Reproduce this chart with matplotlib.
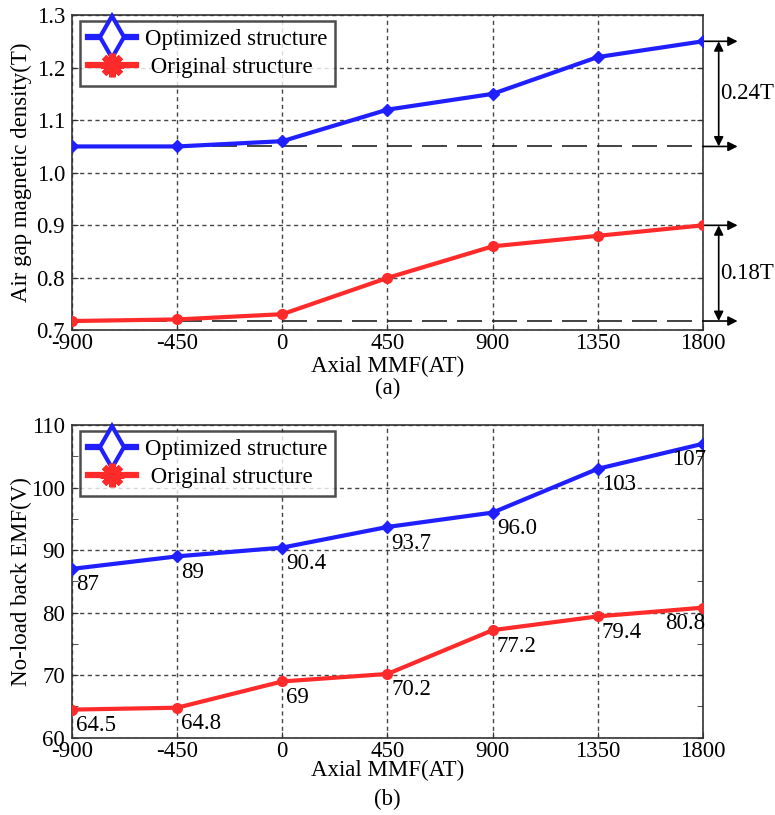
import matplotlib
matplotlib.use("Agg")
import matplotlib.pyplot as plt
from matplotlib.lines import Line2D
from matplotlib.ticker import MultipleLocator

plt.rcParams['font.family'] = ['Liberation Serif', 'DejaVu Serif']
plt.rcParams['mathtext.fontset'] = 'stix'

mmf = [-900, -450, 0, 450, 900, 1350, 1800]
xticks = [-900, -450, 0, 450, 900, 1350, 1800]

# (a) air gap magnetic density (T)
bg_opt = [1.05, 1.05, 1.06, 1.12, 1.15, 1.22, 1.25]
bg_orig = [0.718, 0.721, 0.731, 0.80, 0.86, 0.88, 0.90]
ref_levels_a = [1.05, 0.718]
diff_labels = ["0.24T", "0.18T"]

# (b) no-load back EMF (V)
emf_opt = [87, 89, 90.4, 93.7, 96.0, 103, 107]
emf_orig = [64.5, 64.8, 69, 70.2, 77.2, 79.4, 80.8]
emf_opt_lbl = ["87", "89", "90.4", "93.7", "96.0", "103", "107"]
emf_orig_lbl = ["64.5", "64.8", "69", "70.2", "77.2", "79.4", "80.8"]

BLUE = '#1f1fff'
RED = '#ff2a2a'
FS = 16.5

fig = plt.figure(figsize=(7.75, 8.15), dpi=100)
ax1 = fig.add_axes([0.0929, 0.5945, 0.8141, 0.3871])
ax2 = fig.add_axes([0.0929, 0.0948, 0.8141, 0.3837])


def style(ax):
    ax.set_xlim(-900, 1800)
    ax.set_xticks(xticks)
    ax.set_xticklabels([str(v) for v in xticks])
    ax.grid(True, linestyle=(0, (3, 2.5)), color='#444444', linewidth=1.0)
    for s in ax.spines.values():
        s.set_color('#333333')
        s.set_linewidth(1.2)
    ax.tick_params(axis='both', direction='in', labelsize=FS, length=4,
                   color='#333333', right=True, top=False)
    ax.tick_params(axis='y', pad=5)
    ax.tick_params(axis='x', pad=2)


def legend(ax):
    h1 = Line2D([], [], color=BLUE, lw=4.5, marker='d', markersize=21,
                markerfacecolor='white', markeredgecolor=BLUE, markeredgewidth=3)
    h2 = Line2D([], [], color=RED, lw=4.5, marker=(8, 2, 0), markersize=17,
                markeredgecolor=RED, markeredgewidth=4.5)
    leg = ax.legend([h1, h2], ["Optimized structure", " Original structure"],
                    loc='upper left', bbox_to_anchor=(0.005, 0.995),
                    fontsize=FS, frameon=True, fancybox=False, handlelength=2.1,
                    borderpad=0.35, labelspacing=0.3, handletextpad=0.4,
                    borderaxespad=0.2)
    leg.get_frame().set_edgecolor('#222222')
    leg.get_frame().set_linewidth(1.8)


def labels(ax, ylabel, tag, xlab_y, tag_y):
    ax.set_ylabel(ylabel, fontsize=FS)
    ax.yaxis.label.set_va('center')
    ax.yaxis.set_label_coords(-0.08, 0.5)
    ax.set_xlabel("Axial MMF(AT)", fontsize=FS)
    ax.xaxis.label.set_va('center')
    ax.xaxis.set_label_coords(0.5, xlab_y)
    ax.text(0.5, tag_y, tag, transform=ax.transAxes, ha='center', va='center', fontsize=FS)


# ---------- (a) ----------
style(ax1)
ax1.set_ylim(0.7, 1.3)
ax1.set_yticks([0.7, 0.8, 0.9, 1.0, 1.1, 1.2, 1.3])
ax1.set_yticklabels(["0.7", "0.8", "0.9", "1.0", "1.1", "1.2", "1.3"])
for lvl in ref_levels_a:
    ax1.axhline(lvl, color='#222222', lw=1.2, linestyle=(0, (15, 6)), zorder=2)
ax1.plot(mmf, bg_opt, color=BLUE, lw=3, marker='D', markersize=6, zorder=4)
ax1.plot(mmf, bg_orig, color=RED, lw=3, marker='o', markersize=7, zorder=4)
labels(ax1, "Air gap magnetic density(T)", "(a)", -0.113, -0.185)
legend(ax1)

tr = ax1.get_yaxis_transform()
pairs = [(bg_opt[-1], ref_levels_a[0], diff_labels[0]),
         (bg_orig[-1], ref_levels_a[1], diff_labels[1])]
for top, bot, lbl in pairs:
    for lvl in (top, bot):
        ax1.annotate("", xy=(1.055, lvl), xytext=(1.0, lvl), xycoords=tr, textcoords=tr,
                     arrowprops=dict(arrowstyle='-|>', color='black', lw=1.2,
                                     mutation_scale=14, shrinkA=0, shrinkB=0),
                     annotation_clip=False)
    ax1.annotate("", xy=(1.025, bot), xytext=(1.025, top), xycoords=tr, textcoords=tr,
                 arrowprops=dict(arrowstyle='<|-|>', color='black', lw=1.2,
                                 mutation_scale=14, shrinkA=0, shrinkB=0),
                 annotation_clip=False)
    ax1.text(1.027, (top + bot) / 2, lbl, transform=tr, ha='left', va='center',
             fontsize=FS, clip_on=False)

# ---------- (b) ----------
style(ax2)
ax2.set_ylim(60, 110)
ax2.set_yticks([60, 70, 80, 90, 100, 110])
ax2.yaxis.set_minor_locator(MultipleLocator(5))
ax2.tick_params(axis='y', which='minor', direction='in', length=4, color='#333333', right=True)
ax2.plot(mmf, emf_opt, color=BLUE, lw=3, marker='D', markersize=6, zorder=4)
ax2.plot(mmf, emf_orig, color=RED, lw=3, marker='o', markersize=7, zorder=4)
labels(ax2, "No-load back EMF(V)", "(b)", -0.106, -0.198)
legend(ax2)

for xs, ys, lbls in ((mmf, emf_opt, emf_opt_lbl), (mmf, emf_orig, emf_orig_lbl)):
    for i, (x, y, l) in enumerate(zip(xs, ys, lbls)):
        last = i == len(xs) - 1
        ax2.annotate(l, (x, y), xytext=(2 if last else 3, -4), textcoords='offset points',
                     ha='right' if last else 'left', va='top', fontsize=FS, zorder=5)

fig.savefig("out.png", dpi=100)
